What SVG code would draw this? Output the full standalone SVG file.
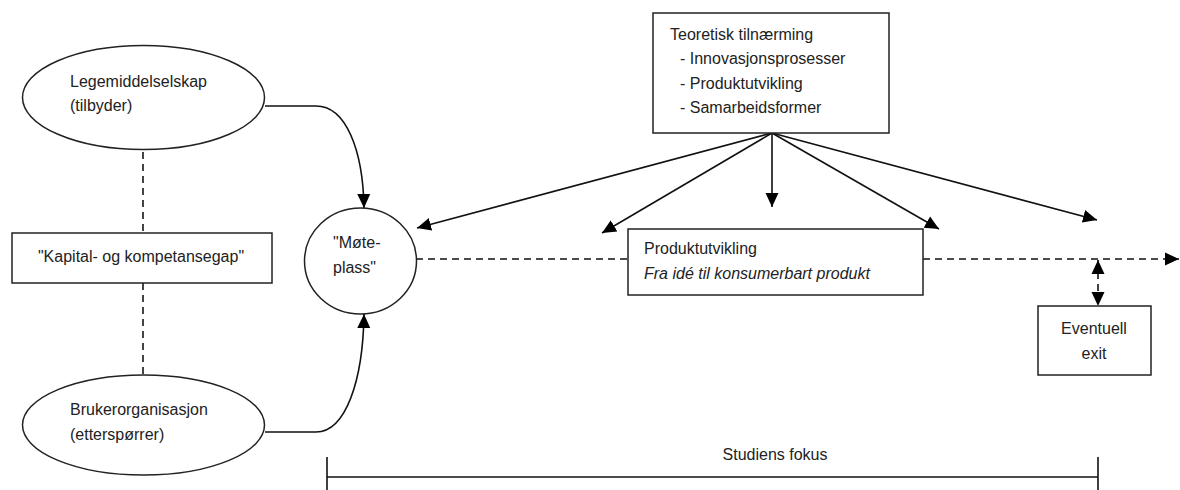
<svg xmlns="http://www.w3.org/2000/svg" width="1180" height="490" viewBox="0 0 1180 490">
  <style>
    .shape { fill: #ffffff; stroke: #222222; stroke-width: 1.5; }
    .line { fill: none; stroke: #111111; stroke-width: 1.6; }
    .dash { fill: none; stroke: #111111; stroke-width: 1.6; stroke-dasharray: 7 5; }
    .vdash { fill: none; stroke: #444444; stroke-width: 2; stroke-dasharray: 7 5; }
    .label { font-family: "Liberation Sans", Arial, sans-serif; font-size: 16px; fill: #222222; }
    .ital { font-style: italic; }
    .mid { text-anchor: middle; }
  </style>
  <defs>
    <marker id="arrow" markerUnits="userSpaceOnUse" markerWidth="15" markerHeight="15" refX="14" refY="7.5" orient="auto">
      <path d="M0,1 L14,7.5 L0,14 z" fill="#000000"/>
    </marker>
    <marker id="arrowStart" markerUnits="userSpaceOnUse" markerWidth="15" markerHeight="15" refX="0" refY="7.5" orient="auto">
      <path d="M14,1 L0,7.5 L14,14 z" fill="#000000"/>
    </marker>
  </defs>

  <!-- connectors -->
  <g id="connectors">
    <!-- links between the two parties and the gap box -->
    <path class="vdash" d="M143,152 V233"/>
    <path class="vdash" d="M143,283 V375"/>
    <!-- parties meeting at the circle -->
    <path class="line" d="M265,106 H316 C346,106 363,150 364,208" marker-end="url(#arrow)"/>
    <path class="line" d="M265,432 H316 C346,432 363,380 364,314" marker-end="url(#arrow)"/>
    <!-- theory fan-out -->
    <path class="line" d="M772,133 L417,228" marker-end="url(#arrow)"/>
    <path class="line" d="M772,133 L602,233" marker-end="url(#arrow)"/>
    <path class="line" d="M772,133 L772,207" marker-end="url(#arrow)"/>
    <path class="line" d="M772,133 L939,229" marker-end="url(#arrow)"/>
    <path class="line" d="M772,133 L1097,220" marker-end="url(#arrow)"/>
    <!-- main timeline -->
    <path class="dash" d="M416,259 H628"/>
    <path class="dash" d="M923,259 H1179" marker-end="url(#arrow)"/>
    <!-- exit link -->
    <path class="dash" d="M1098,260 V306" marker-start="url(#arrowStart)" marker-end="url(#arrow)"/>
    <!-- study focus bracket -->
    <path class="line" d="M327,477 H1098"/>
    <path class="line" d="M327,457 V490"/>
    <path class="line" d="M1098,457 V490"/>
  </g>

  <g id="node-legemiddel">
    <ellipse class="shape" cx="143.5" cy="97.5" rx="121" ry="52"/>
    <text class="label" x="70" y="87">Legemiddelselskap</text>
    <text class="label" x="70" y="111">(tilbyder)</text>
  </g>

  <g id="node-gap">
    <rect class="shape" x="12" y="233" width="260" height="50"/>
    <text class="label mid" x="141" y="262">"Kapital- og kompetansegap"</text>
  </g>

  <g id="node-bruker">
    <ellipse class="shape" cx="143.5" cy="425" rx="121" ry="50"/>
    <text class="label" x="70" y="415">Brukerorganisasjon</text>
    <text class="label" x="70" y="440">(etterspørrer)</text>
  </g>

  <g id="node-moteplass">
    <ellipse class="shape" cx="360.5" cy="261" rx="56" ry="53"/>
    <text class="label" x="333" y="248">"Møte-</text>
    <text class="label" x="333" y="273">plass"</text>
  </g>

  <g id="node-teori">
    <rect class="shape" x="653" y="13" width="236" height="120"/>
    <text class="label" x="670" y="40">Teoretisk tilnærming</text>
    <text class="label" x="680" y="64">- Innovasjonsprosesser</text>
    <text class="label" x="680" y="89">- Produktutvikling</text>
    <text class="label" x="680" y="113">- Samarbeidsformer</text>
  </g>

  <g id="node-produktutvikling">
    <rect class="shape" x="628" y="229" width="295" height="66"/>
    <text class="label" x="644" y="254">Produktutvikling</text>
    <text class="label ital" x="644" y="279">Fra idé til konsumerbart produkt</text>
  </g>

  <g id="node-exit">
    <rect class="shape" x="1038" y="306" width="113" height="69"/>
    <text class="label mid" x="1094" y="334">Eventuell</text>
    <text class="label mid" x="1094" y="359">exit</text>
  </g>

  <g id="node-fokus">
    <text class="label mid" x="775" y="460">Studiens fokus</text>
  </g>
</svg>
